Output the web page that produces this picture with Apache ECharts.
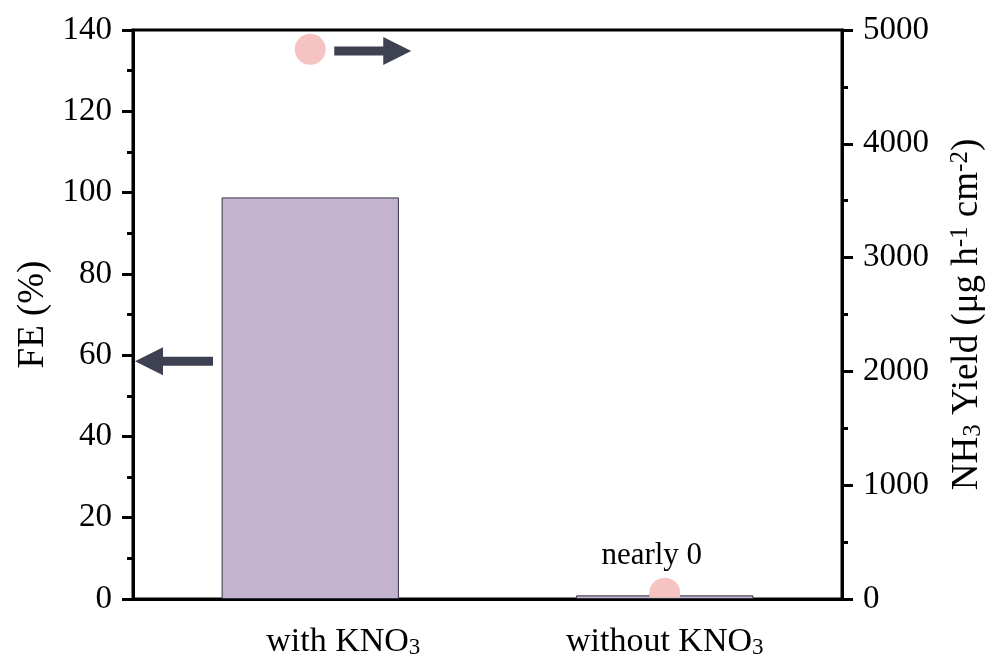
<!DOCTYPE html>
<html><head><meta charset="utf-8">
<script src="https://cdn.jsdelivr.net/npm/echarts@6/dist/echarts.min.js"></script>
<style>html,body{margin:0;padding:0;background:#fff}#c{width:989px;height:666px}</style>
</head><body><div id="c"></div>
<script>
// ---- data ----
const categories = ['with KNO3', 'without KNO3'];
const feValues = [98.8, 0.9];          // FE (%) – left axis
const yieldValues = [4830, 50];        // NH3 yield – right axis
const yieldNotes = ['', 'nearly 0'];
const feTicks = [0, 20, 40, 60, 80, 100, 120, 140];
const yieldTicks = [0, 1000, 2000, 3000, 4000, 5000];
const arrowFE = 58.5;                  // left-pointing arrow level (FE axis)
const arrowYield = 4816;               // right-pointing arrow level (yield axis)

const FONT = '"Liberation Serif", "Times New Roman", serif';
const BLACK = '#000';
const chart = echarts.init(document.getElementById('c'));

function yAxisBase(ticks, pos) {
  return {
    type: 'value', position: pos,
    min: ticks[0], max: ticks[ticks.length - 1], interval: ticks[1] - ticks[0],
    axisLine: { show: true, lineStyle: { color: BLACK, width: 3 } },
    axisTick: { show: true, inside: false, length: 11, lineStyle: { color: BLACK, width: 3 } },
    minorTick: { show: true, splitNumber: 2, length: 6, lineStyle: { color: BLACK, width: 3 } },
    splitLine: { show: false }, minorSplitLine: { show: false },
    axisLabel: { fontFamily: FONT, fontSize: 33, color: BLACK, margin: 21, formatter: v => String(v) },
    nameLocation: 'middle'
  };
}

const leftAxis = Object.assign(yAxisBase(feTicks, 'left'), {
  name: 'FE (%)', nameGap: 80,
  nameTextStyle: { fontFamily: FONT, fontSize: 37, color: BLACK }
});
const rightAxis = Object.assign(yAxisBase(yieldTicks, 'right'), {
  name: 'NH{sub|3} Yield (μg h{sup|-1} cm{sup|-2})', nameGap: 106,
  nameTextStyle: {
    fontFamily: FONT, fontSize: 37, color: BLACK, lineHeight: 38,
    rich: {
      sub: { fontFamily: FONT, fontSize: 25, lineHeight: 16, verticalAlign: 'bottom', color: BLACK },
      sup: { fontFamily: FONT, fontSize: 25, lineHeight: 16, verticalAlign: 'top', color: BLACK }
    }
  }
});

const option = {
  backgroundColor: '#fff',
  animation: false,
  grid: { left: 133, right: 147, top: 30, bottom: 67, outerBoundsMode: 'none',
          show: true, borderColor: BLACK, borderWidth: 3, backgroundColor: 'transparent' },
  xAxis: {
    type: 'category', data: categories,
    axisLine: { show: true, lineStyle: { color: BLACK, width: 3 } },
    axisTick: { show: false },
    axisLabel: {
      interval: 0, hideOverlap: false,
      fontFamily: FONT, fontSize: 34, color: BLACK, margin: 26, lineHeight: 34,
      formatter: (v, i) => (i === 0 ? '{pad|}' : '') + v.replace(/O3$/, 'O{sub|3}'),
      rich: {
        pad: { width: 66 },
        sub: { fontFamily: FONT, fontSize: 23, lineHeight: 16, verticalAlign: 'bottom', color: BLACK }
      }
    }
  },
  yAxis: [leftAxis, rightAxis],
  series: [
    {
      type: 'bar', yAxisIndex: 0, data: feValues, barWidth: '50%',
      itemStyle: { color: '#c3b3cf', borderColor: '#33333f', borderWidth: 1 },
      z: 2
    },
    {
      type: 'custom', yAxisIndex: 1, z: 3,
      data: yieldValues.map((v, i) => [i, v]),
      renderItem: (params, api) => {
        const p = api.coord([api.value(0), api.value(1)]);
        const cs = params.coordSys;
        const note = yieldNotes[params.dataIndex];
        const children = [{
          type: 'circle', shape: { cx: p[0], cy: p[1], r: 15.5 },
          style: { fill: '#f5c4c2' },
          clipPath: { type: 'rect', shape: { x: cs.x, y: cs.y, width: cs.width, height: cs.height - 1.5 } }
        }];
        if (note) {
          children.push({
            type: 'text',
            style: { text: note, x: p[0] - 13, y: p[1] - 22, align: 'center', verticalAlign: 'bottom',
                     fontFamily: FONT, fontSize: 31, fill: BLACK }
          });
        }
        return { type: 'group', children };
      }
    }
  ]
};
chart.setOption(option);

// arrows as annotations positioned through the axes
function arrowShape(tipX, y, tailX) {
  const dir = tipX > tailX ? 1 : -1;
  const headLen = 28, headHalf = 14, shaftHalf = 4.5;
  const baseX = tipX - dir * headLen;
  return [
    [tailX, y - shaftHalf], [baseX, y - shaftHalf], [baseX, y - headHalf],
    [tipX, y], [baseX, y + headHalf], [baseX, y + shaftHalf], [tailX, y + shaftHalf]
  ];
}
const pLeft = chart.convertToPixel({ xAxisIndex: 0, yAxisIndex: 0 }, [0, arrowFE]);
const gridRect = chart.getModel().getComponent('grid').coordinateSystem.getRect();
const pRight = chart.convertToPixel({ xAxisIndex: 0, yAxisIndex: 1 }, [0, arrowYield]);
const ARROW = '#3e4151';
chart.setOption({
  graphic: [
    { type: 'polygon', z: 10, shape: { points: arrowShape(gridRect.x + 2, pLeft[1], gridRect.x + 80) },
      style: { fill: ARROW } },
    { type: 'polygon', z: 10, shape: { points: arrowShape(pRight[0] + 101, pRight[1], pRight[0] + 24) },
      style: { fill: ARROW } }
  ]
});
</script>
</body></html>
